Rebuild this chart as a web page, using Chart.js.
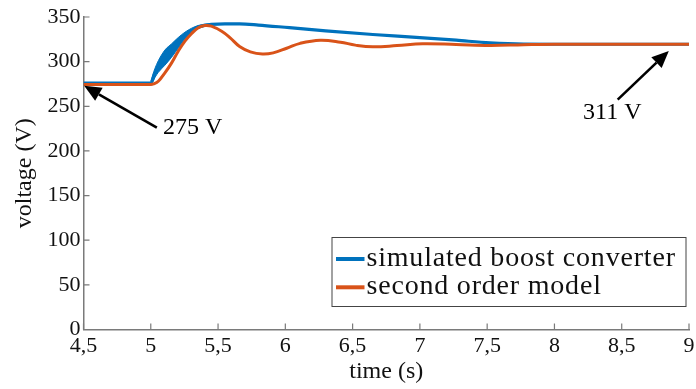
<!DOCTYPE html>
<html><head><meta charset="utf-8">
<script src="https://cdn.jsdelivr.net/npm/chart.js@4/dist/chart.umd.min.js"></script>
<style>html,body{margin:0;padding:0;background:#fff}#wrap{width:696px;height:389px}</style>
</head><body><div id="wrap"><canvas id="c" width="696" height="389"></canvas></div>
<script>
// ---- data ----
const xTickValues = [4.5, 5, 5.5, 6, 6.5, 7, 7.5, 8, 8.5, 9];
const xTickLabels = ['4,5', '5', '5,5', '6', '6,5', '7', '7,5', '8', '8,5', '9'];
const yTickValues = [0, 50, 100, 150, 200, 250, 300, 350];
const yTickLabels = ['0', '50', '100', '150', '200', '250', '300', '350'];

const boostTime    = [4.5, 4.995, 5.0, 5.03, 5.056, 5.105, 5.155, 5.204, 5.254, 5.304, 5.353, 5.403, 5.45, 5.55, 5.66, 5.8, 6.03, 6.3, 6.65, 7.0, 7.27, 7.52, 7.77, 8.0, 9.0];
const boostVoltage = [276, 276, 275.5, 287, 294.5, 304.5, 312.5, 321, 329, 334.8, 338.8, 340.8, 341.8, 342.3, 342.3, 341, 338, 334.5, 330.4, 327, 324, 321, 319.6, 319.5, 319.5];

// switching ripple band of the simulated converter during the rise
const rippleTime  = [5.0, 5.03, 5.056, 5.105, 5.155, 5.204, 5.254, 5.304, 5.353, 5.403, 5.45];
const rippleUpper = [278, 292, 301, 313, 320, 327, 333, 337.5, 340.5, 342, 342.5];
const rippleLower = [273, 282, 288, 296, 305, 315, 325, 332, 337, 339.5, 341];

const modelTime    = [4.5, 5.0, 5.02, 5.056, 5.105, 5.155, 5.204, 5.254, 5.304, 5.353, 5.403, 5.45, 5.527, 5.59, 5.66, 5.74, 5.83, 5.91, 6.01, 6.11, 6.26, 6.41, 6.52, 6.65, 6.83, 7.02, 7.27, 7.52, 7.77, 8.0, 9.0];
const modelVoltage = [274.5, 274.5, 275, 278, 287.4, 298.6, 311.7, 323, 331.5, 338, 340.5, 339.7, 334, 326.7, 317, 311, 308.5, 309.8, 315, 320.5, 324, 321.8, 318.5, 316.6, 318, 320, 319.2, 318.2, 319, 319.5, 319.5];

const seriesNames = ['simulated boost converter', 'second order model'];
const annotations = [
  { text: '275 V', tipX: 4.505, tipY: 273, tailX: 5.045, tailY: 226, textX: 5.09, textY: 225.5, align: 'left' },
  { text: '311 V', tipX: 8.85, tipY: 312, tailX: 8.47, tailY: 257.5, textX: 8.43, textY: 243, align: 'center' }
];

const BLUE = '#0072BD', ORANGE = '#D95319';
const FONT = 'Liberation Serif';

const zip = (xs, ys) => xs.map((x, i) => ({ x, y: ys[i] }));

const inwardTicks = {
  id: 'inwardTicks',
  afterDatasetsDraw(chart) {
    const { ctx, chartArea: a, scales: { x, y } } = chart;
    ctx.save();
    ctx.strokeStyle = '#7a7a7a';
    ctx.lineWidth = 1.2;
    ctx.beginPath();
    xTickValues.forEach(v => { const px = x.getPixelForValue(v); ctx.moveTo(px, a.bottom); ctx.lineTo(px, a.bottom - 6); });
    yTickValues.forEach(v => { const py = y.getPixelForValue(v); ctx.moveTo(a.left, py); ctx.lineTo(a.left + 6, py); });
    ctx.stroke();
    ctx.restore();
  }
};

const arrowsPlugin = {
  id: 'arrows',
  afterDatasetsDraw(chart) {
    const { ctx, scales: { x, y } } = chart;
    ctx.save();
    annotations.forEach(an => {
      const tx = x.getPixelForValue(an.tipX), ty = y.getPixelForValue(an.tipY);
      const sx = x.getPixelForValue(an.tailX), sy = y.getPixelForValue(an.tailY);
      const ang = Math.atan2(ty - sy, tx - sx);
      const headLen = 17, headW = 7.5;
      const bx = tx - headLen * Math.cos(ang), by = ty - headLen * Math.sin(ang);
      ctx.strokeStyle = '#000'; ctx.fillStyle = '#000'; ctx.lineWidth = 2.6;
      ctx.beginPath(); ctx.moveTo(sx, sy); ctx.lineTo(bx, by); ctx.stroke();
      ctx.beginPath();
      ctx.moveTo(tx, ty);
      ctx.lineTo(bx + headW * Math.sin(ang), by - headW * Math.cos(ang));
      ctx.lineTo(bx - headW * Math.sin(ang), by + headW * Math.cos(ang));
      ctx.closePath(); ctx.fill();
      ctx.font = `24px "${FONT}"`;
      ctx.textAlign = an.align; ctx.textBaseline = 'middle';
      ctx.fillText(an.text, x.getPixelForValue(an.textX), y.getPixelForValue(an.textY));
    });
    ctx.restore();
  }
};

const legendPlugin = {
  id: 'boxLegend',
  afterDraw(chart) {
    const { ctx } = chart;
    const items = chart.data.datasets.filter(d => d.legendName).sort((p, q) => p.legendIndex - q.legendIndex);
    ctx.save();
    const left = 331.5, top = 237, w = 354, h = 69;
    ctx.fillStyle = '#fff'; ctx.fillRect(left, top, w, h);
    ctx.strokeStyle = '#444'; ctx.lineWidth = 1; ctx.strokeRect(left + 0.5, top + 0.5, w, h);
    ctx.font = `28px "${FONT}"`; ctx.textBaseline = 'alphabetic'; ctx.textAlign = 'left';
    if ('letterSpacing' in ctx) ctx.letterSpacing = '0.8px';
    items.forEach((d, i) => {
      const cy = 259 + i * 28.3;
      ctx.strokeStyle = d.borderColor; ctx.lineWidth = 4;
      ctx.beginPath(); ctx.moveTo(336, cy); ctx.lineTo(364.5, cy); ctx.stroke();
      ctx.fillStyle = '#111';
      ctx.fillText(d.legendName, 366.5, cy + 6.5);
    });
    ctx.restore();
  }
};

new Chart(document.getElementById('c'), {
  type: 'line',
  data: {
    datasets: [
      { label: seriesNames[1], legendName: seriesNames[1], legendIndex: 1, data: zip(modelTime, modelVoltage), borderColor: ORANGE, borderWidth: 3, pointRadius: 0, tension: 0.4, order: 0 },
      { label: seriesNames[0], legendName: seriesNames[0], legendIndex: 0, data: zip(boostTime, boostVoltage), borderColor: BLUE, borderWidth: 3.2, pointRadius: 0, cubicInterpolationMode: 'monotone', order: 1 },
      { label: 'ripple upper', data: zip(rippleTime, rippleUpper), borderColor: BLUE, backgroundColor: BLUE, borderWidth: 1, pointRadius: 0, cubicInterpolationMode: 'monotone', fill: '+1', order: 2 },
      { label: 'ripple lower', data: zip(rippleTime, rippleLower), borderColor: BLUE, borderWidth: 1, pointRadius: 0, cubicInterpolationMode: 'monotone', fill: false, order: 3 }
    ]
  },
  options: {
    responsive: false,
    animation: false,
    layout: { padding: { left: 0, right: 7, top: 17, bottom: 0 } },
    plugins: { legend: { display: false }, tooltip: { enabled: false } },
    scales: {
      x: {
        type: 'linear', min: 4.5, max: 9,
        afterFit: s => { s.height = 59.5; s.paddingRight = 0; s.paddingLeft = 0; },
        afterBuildTicks: s => { s.ticks = xTickValues.map(v => ({ value: v })); },
        grid: { display: false, drawTicks: false },
        border: { display: true, color: '#7a7a7a', width: 1.5 },
        ticks: { color: '#111', padding: 4, maxRotation: 0, autoSkip: false, font: { family: FONT, size: 22 }, callback: (v, i) => xTickLabels[i] },
        title: { display: true, text: 'time (s)', color: '#111', font: { family: FONT, size: 24 }, padding: { top: 0, bottom: 3 } }
      },
      y: {
        type: 'linear', min: 0, max: 350,
        afterFit: s => { s.width = 83.5; },
        afterBuildTicks: s => { s.ticks = yTickValues.map(v => ({ value: v })); },
        grid: { display: false, drawTicks: false },
        border: { display: true, color: '#7a7a7a', width: 1.5 },
        ticks: { color: '#111', padding: 3, autoSkip: false, font: { family: FONT, size: 22 }, callback: (v, i) => yTickLabels[i] },
        title: { display: true, text: 'voltage (V)', color: '#111', font: { family: FONT, size: 24 }, padding: { top: 10, bottom: 0 } }
      }
    }
  },
  plugins: [inwardTicks, arrowsPlugin, legendPlugin]
});
</script></body></html>
